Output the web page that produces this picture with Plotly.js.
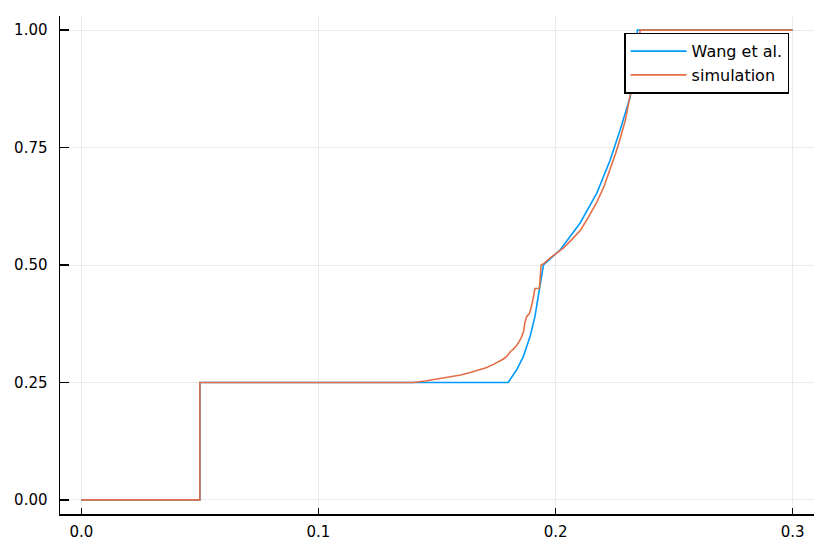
<!DOCTYPE html>
<html>
<head>
<meta charset="utf-8">
<script src="https://cdn.plot.ly/plotly-3.0.1.min.js"></script>
<style>
  html, body { margin: 0; padding: 0; background: #ffffff; }
  #chart { width: 830px; height: 554px; }
</style>
</head>
<body>
<div id="chart"></div>
<script>
// Values
const wangX = [0, 0.05, 0.05, 0.18, 0.1836, 0.1864, 0.1892, 0.1913, 0.1927, 0.1939, 0.1949,
  0.2019, 0.2103, 0.2174, 0.2230, 0.2272, 0.2315, 0.2335, 0.2345, 0.3];
const wangY = [0, 0, 0.25, 0.25, 0.277, 0.305, 0.347, 0.39, 0.433, 0.468, 0.5,
  0.532, 0.589, 0.653, 0.723, 0.787, 0.858, 0.93, 1.0, 1.0];

const simX = [0, 0.05, 0.05, 0.14, 0.145, 0.15, 0.155, 0.16, 0.164, 0.168, 0.171, 0.174, 0.176,
  0.178, 0.1795, 0.181, 0.182, 0.1835, 0.1845, 0.1855, 0.1865, 0.187, 0.1878, 0.189, 0.1898,
  0.1905, 0.191, 0.1913, 0.1932, 0.1939, 0.195, 0.1975, 0.2005, 0.2035, 0.207, 0.2105, 0.214,
  0.2175, 0.2205, 0.223, 0.2255, 0.2275, 0.2295, 0.2315, 0.2330, 0.2345, 0.2357, 0.3];
const simY = [0, 0, 0.25, 0.25, 0.253, 0.257, 0.261, 0.266, 0.271, 0.277, 0.282, 0.289, 0.294,
  0.300, 0.306, 0.316, 0.32, 0.328, 0.336, 0.345, 0.358, 0.376, 0.39, 0.397, 0.411,
  0.425, 0.44, 0.45, 0.45, 0.50, 0.503, 0.514, 0.525, 0.537, 0.555, 0.574, 0.603,
  0.635, 0.668, 0.702, 0.74, 0.773, 0.81, 0.862, 0.9, 0.95, 1.0, 1.0];

const xTicks = [0, 0.1, 0.2, 0.3];
const yTicks = [0, 0.25, 0.5, 0.75, 1.0];

const font = { family: 'DejaVu Sans, sans-serif', size: 15, color: '#000000' };

Plotly.newPlot('chart', [
  {
    x: wangX, y: wangY, name: 'Wang et al.',
    type: 'scatter', mode: 'lines',
    line: { color: '#009afa', width: 1.6 },
  },
  {
    x: simX, y: simY, name: 'simulation',
    type: 'scatter', mode: 'lines',
    line: { color: '#e36f47', width: 1.6 },
  },
], {
  width: 830,
  height: 554,
  font: font,
  showlegend: true,
  legend: {
    x: 0.967, y: 0.9665, xanchor: 'right', yanchor: 'top',
    bgcolor: '#ffffff', bordercolor: '#000000', borderwidth: 1.5,
    font: { family: 'DejaVu Sans, sans-serif', size: 16, color: '#000000' },
    itemwidth: 56,
    tracegroupgap: 0,
  },
  xaxis: {
    range: [-0.009, 0.309],
    tickvals: xTicks,
    tickformat: '.1f',
    ticks: 'inside', ticklen: 6, tickwidth: 1.2, tickcolor: '#000000',
    showline: true, linecolor: '#000000', linewidth: 1.5,
    showgrid: true, gridcolor: '#ebebeb', gridwidth: 1,
    zeroline: false, mirror: false,
    ticklabelstandoff: 3,
  },
  yaxis: {
    range: [-0.03, 1.03],
    tickvals: yTicks,
    tickformat: '.2f',
    ticks: 'inside', ticklen: 9, tickwidth: 1.2, tickcolor: '#000000',
    showline: true, linecolor: '#000000', linewidth: 1.5,
    showgrid: true, gridcolor: '#ebebeb', gridwidth: 1,
    zeroline: false, mirror: false,
    ticklabelstandoff: 8,
  },
  margin: { l: 60, r: 16, t: 16, b: 40 },
  paper_bgcolor: '#ffffff',
  plot_bgcolor: '#ffffff',
}, { displayModeBar: false, staticPlot: true });
</script>
</body>
</html>
